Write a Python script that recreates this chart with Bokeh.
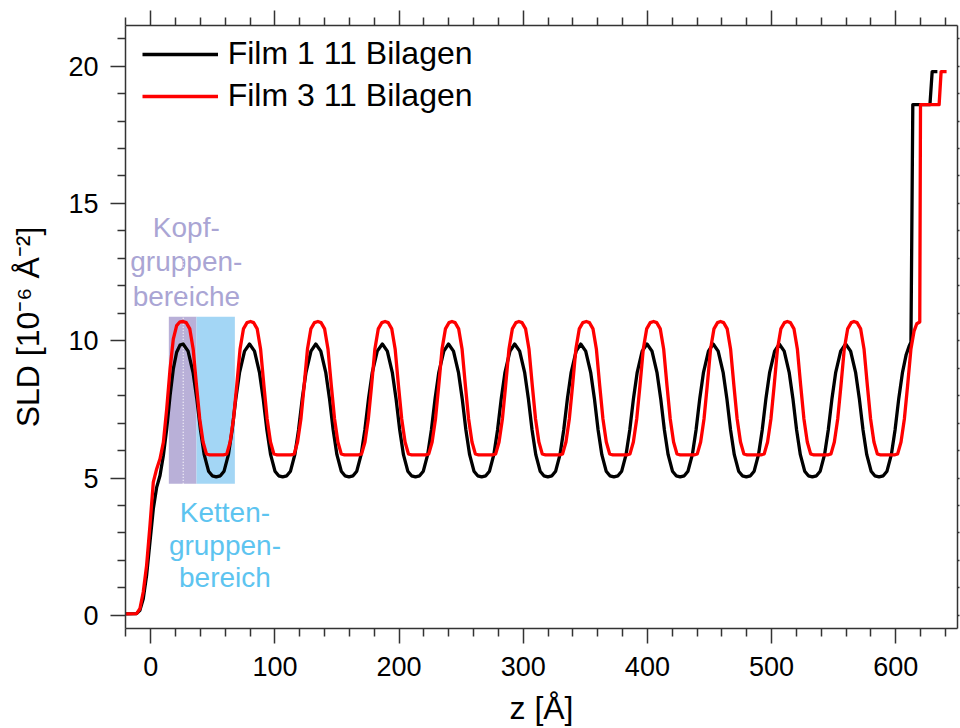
from bokeh.plotting import figure
from bokeh.models import (LinearAxis, Range1d, Legend, LegendItem, FixedTicker,
                          CustomJSTickFormatter)
from bokeh.embed import file_html
from bokeh.resources import INLINE
from bokeh.core.properties import value

# ---------------- data ----------------
film1_z = [
    -20.4, -11.5, -8.8, -6.1, -3.4, -0.7, 2.0, 4.7, 7.4, 10.1, 12.8, 15.5, 18.1, 20.8, 23.5,
    26.0, 30.0, 34.0, 37.0, 40.0, 43.0, 46.5, 49.5, 52.7, 56.0, 59.0, 62.5, 65.5, 68.5, 71.5, 75.5,
    79.5, 83.5, 87.5, 90.5, 93.5, 96.5, 100.0, 103.0, 106.2, 109.5, 112.5, 116.0, 119.0, 122.0, 125.0, 129.0,
    132.9, 136.9, 140.9, 143.9, 146.9, 149.9, 153.4, 156.4, 159.6, 162.9, 165.9, 169.4, 172.4, 175.4, 178.4, 182.4,
    186.5, 190.5, 194.5, 197.5, 200.5, 203.5, 207.0, 210.0, 213.2, 216.5, 219.5, 223.0, 226.0, 229.0, 232.0, 236.0,
    239.8, 243.8, 247.8, 250.8, 253.8, 256.8, 260.3, 263.3, 266.5, 269.8, 272.8, 276.3, 279.3, 282.3, 285.3, 289.3,
    293.1, 297.1, 301.1, 304.1, 307.1, 310.1, 313.6, 316.6, 319.8, 323.1, 326.1, 329.6, 332.6, 335.6, 338.6, 342.6,
    346.3, 350.3, 354.3, 357.3, 360.3, 363.3, 366.8, 369.8, 373.0, 376.3, 379.3, 382.8, 385.8, 388.8, 391.8, 395.8,
    399.7, 403.7, 407.7, 410.7, 413.7, 416.7, 420.2, 423.2, 426.4, 429.7, 432.7, 436.2, 439.2, 442.2, 445.2, 449.2,
    453.0, 457.0, 461.0, 464.0, 467.0, 470.0, 473.5, 476.5, 479.7, 483.0, 486.0, 489.5, 492.5, 495.5, 498.5, 502.5,
    506.2, 510.2, 514.2, 517.2, 520.2, 523.2, 526.7, 529.7, 532.9, 536.2, 539.2, 542.7, 545.7, 548.7, 551.7, 555.7,
    559.7, 563.7, 567.7, 570.7, 573.7, 576.7, 580.2, 583.2, 586.6, 590.0, 593.0, 596.5, 599.5, 602.5, 605.5, 608.5,
    611.0, 612.3, 613.8, 627.6, 629.4, 633.6,
]
film1_sld = [
    0.05, 0.06, 0.18, 0.6, 1.46, 2.67, 3.88, 4.66, 5.09, 5.82, 6.79, 8.0, 8.97, 9.58, 9.84,
    9.88, 9.62, 8.85, 7.9, 6.75, 5.85, 5.25, 5.08, 5.04, 5.08, 5.25, 5.85, 6.75, 7.9, 8.85, 9.62,
    9.88, 9.62, 8.85, 7.9, 6.75, 5.85, 5.25, 5.08, 5.04, 5.08, 5.25, 5.85, 6.75, 7.9, 8.85, 9.62,
    9.88, 9.62, 8.85, 7.9, 6.75, 5.85, 5.25, 5.08, 5.04, 5.08, 5.25, 5.85, 6.75, 7.9, 8.85, 9.62,
    9.88, 9.62, 8.85, 7.9, 6.75, 5.85, 5.25, 5.08, 5.04, 5.08, 5.25, 5.85, 6.75, 7.9, 8.85, 9.62,
    9.88, 9.62, 8.85, 7.9, 6.75, 5.85, 5.25, 5.08, 5.04, 5.08, 5.25, 5.85, 6.75, 7.9, 8.85, 9.62,
    9.88, 9.62, 8.85, 7.9, 6.75, 5.85, 5.25, 5.08, 5.04, 5.08, 5.25, 5.85, 6.75, 7.9, 8.85, 9.62,
    9.88, 9.62, 8.85, 7.9, 6.75, 5.85, 5.25, 5.08, 5.04, 5.08, 5.25, 5.85, 6.75, 7.9, 8.85, 9.62,
    9.88, 9.62, 8.85, 7.9, 6.75, 5.85, 5.25, 5.08, 5.04, 5.08, 5.25, 5.85, 6.75, 7.9, 8.85, 9.62,
    9.88, 9.62, 8.85, 7.9, 6.75, 5.85, 5.25, 5.08, 5.04, 5.08, 5.25, 5.85, 6.75, 7.9, 8.85, 9.62,
    9.88, 9.62, 8.85, 7.9, 6.75, 5.85, 5.25, 5.08, 5.04, 5.08, 5.25, 5.85, 6.75, 7.9, 8.85, 9.62,
    9.88, 9.62, 8.85, 7.9, 6.75, 5.85, 5.25, 5.08, 5.04, 5.08, 5.25, 5.85, 6.75, 7.9, 8.85, 9.5,
    9.82, 9.95, 18.6, 18.6, 19.8, 19.8,
]

film3_z = [
    -20.4, -11.5, -8.8, -6.1, -3.4, -0.7, 2.0, 4.7, 7.4, 10.1, 12.8, 15.5, 18.1, 20.8, 23.5,
    26.0, 28.5, 31.4, 34.1, 36.8, 39.4, 42.1, 44.8, 47.5, 58.5, 61.2, 63.9, 66.6, 69.2, 71.9, 74.6, 77.5,
    80.3, 82.8, 85.7, 88.4, 91.1, 93.7, 96.4, 99.1, 101.8, 112.8, 115.5, 118.2, 120.9, 123.5, 126.2, 128.9, 131.8,
    134.6, 137.1, 140.0, 142.7, 145.4, 148.0, 150.7, 153.4, 156.1, 167.1, 169.8, 172.5, 175.2, 177.8, 180.5, 183.2, 186.1,
    188.7, 191.2, 194.1, 196.8, 199.5, 202.1, 204.8, 207.5, 210.2, 221.2, 223.9, 226.6, 229.3, 231.9, 234.6, 237.3, 240.2,
    242.6, 245.1, 248.0, 250.7, 253.4, 256.0, 258.7, 261.4, 264.1, 275.1, 277.8, 280.5, 283.2, 285.8, 288.5, 291.2, 294.1,
    296.5, 299.0, 301.9, 304.6, 307.3, 309.9, 312.6, 315.3, 318.0, 329.0, 331.7, 334.4, 337.1, 339.7, 342.4, 345.1, 348.0,
    350.8, 353.3, 356.2, 358.9, 361.6, 364.2, 366.9, 369.6, 372.3, 383.3, 386.0, 388.7, 391.4, 394.0, 396.7, 399.4, 402.3,
    405.0, 407.5, 410.4, 413.1, 415.8, 418.4, 421.1, 423.8, 426.5, 437.5, 440.2, 442.9, 445.6, 448.2, 450.9, 453.6, 456.5,
    458.9, 461.4, 464.3, 467.0, 469.7, 472.3, 475.0, 477.7, 480.4, 491.4, 494.1, 496.8, 499.5, 502.1, 504.8, 507.5, 510.4,
    512.7, 515.2, 518.1, 520.8, 523.5, 526.1, 528.8, 531.5, 534.2, 545.2, 547.9, 550.6, 553.3, 555.9, 558.6, 561.3, 564.2,
    566.4, 568.9, 571.8, 574.5, 577.2, 579.8, 582.5, 585.2, 587.9, 598.9, 601.6, 604.3, 607.0, 609.6, 612.3, 614.8,
    617.0, 619.4, 620.0, 635.0, 636.6, 641.0,
]
film3_sld = [
    0.05, 0.06, 0.24, 0.85, 1.82, 3.27, 4.85, 5.33, 5.70, 6.3, 7.52, 8.97, 10.06, 10.55, 10.69,
    10.70, 10.66, 10.43, 9.70, 8.36, 7.15, 6.31, 5.88, 5.84, 5.84, 5.88, 6.31, 7.15, 8.36, 9.70, 10.43, 10.66,
    10.70, 10.66, 10.43, 9.70, 8.36, 7.15, 6.31, 5.88, 5.84, 5.84, 5.88, 6.31, 7.15, 8.36, 9.70, 10.43, 10.66,
    10.70, 10.66, 10.43, 9.70, 8.36, 7.15, 6.31, 5.88, 5.84, 5.84, 5.88, 6.31, 7.15, 8.36, 9.70, 10.43, 10.66,
    10.70, 10.66, 10.43, 9.70, 8.36, 7.15, 6.31, 5.88, 5.84, 5.84, 5.88, 6.31, 7.15, 8.36, 9.70, 10.43, 10.66,
    10.70, 10.66, 10.43, 9.70, 8.36, 7.15, 6.31, 5.88, 5.84, 5.84, 5.88, 6.31, 7.15, 8.36, 9.70, 10.43, 10.66,
    10.70, 10.66, 10.43, 9.70, 8.36, 7.15, 6.31, 5.88, 5.84, 5.84, 5.88, 6.31, 7.15, 8.36, 9.70, 10.43, 10.66,
    10.70, 10.66, 10.43, 9.70, 8.36, 7.15, 6.31, 5.88, 5.84, 5.84, 5.88, 6.31, 7.15, 8.36, 9.70, 10.43, 10.66,
    10.70, 10.66, 10.43, 9.70, 8.36, 7.15, 6.31, 5.88, 5.84, 5.84, 5.88, 6.31, 7.15, 8.36, 9.70, 10.43, 10.66,
    10.70, 10.66, 10.43, 9.70, 8.36, 7.15, 6.31, 5.88, 5.84, 5.84, 5.88, 6.31, 7.15, 8.36, 9.70, 10.43, 10.66,
    10.70, 10.66, 10.43, 9.70, 8.36, 7.15, 6.31, 5.88, 5.84, 5.84, 5.88, 6.31, 7.15, 8.36, 9.70, 10.43, 10.66,
    10.70, 10.66, 10.43, 9.70, 8.36, 7.15, 6.31, 5.88, 5.84, 5.84, 5.88, 6.31, 7.15, 8.36, 9.70, 10.35,
    10.62, 10.68, 18.6, 18.6, 19.8, 19.8,
]

series_labels = ["Film 1 11 Bilagen", "Film 3 11 Bilagen"]

x_ticks = [0, 100, 200, 300, 400, 500, 600]
x_minor_ticks = [-20, 20, 40, 60, 80, 120, 140, 160, 180, 220, 240, 260, 280, 320, 340, 360, 380,
                 420, 440, 460, 480, 520, 540, 560, 580, 620, 640]
y_ticks = [0, 5, 10, 15, 20]
y_minor_ticks = [1, 2, 3, 4, 6, 7, 8, 9, 11, 12, 13, 14, 16, 17, 18, 19, 21]

# highlighted regions (head-group and chain-group of the first bilayer)
head_left, head_right = 14.5, 36.8
chain_left, chain_right = 36.8, 67.7
region_bottom, region_top = 4.79, 10.87
head_center = 26.1
marker_top = 13.4

head_text = ["Kopf-", "gruppen-", "bereiche"]
head_text_x = [28.6, 28.6, 28.6]
head_text_y = [14.12, 12.87, 11.62]
chain_text = ["Ketten-", "gruppen-", "bereich"]
chain_text_x = [59.7, 59.7, 59.7]
chain_text_y = [3.73, 2.54, 1.36]

# ---------------- styling ----------------
FONT = "Liberation Sans"
AX_COLOR = "#333333"
HEAD_BOX = "#b9b0d8"
CHAIN_BOX = "#a3d6f5"
HEAD_TXT = "#aaa5d4"
CHAIN_TXT = "#5dc4f0"

p = figure(width=960, height=728, output_backend="svg", toolbar_location=None,
           x_range=Range1d(-20.4, 649.8), y_range=Range1d(-0.48, 21.48),
           min_border_left=125, min_border_top=25, min_border_right=3, min_border_bottom=98)
p.outline_line_color = None
p.xgrid.visible = False
p.ygrid.visible = False
p.background_fill_color = "white"
p.border_fill_color = "white"

xa = p.below[0]
ya = p.left[0]
top_ax = LinearAxis()
right_ax = LinearAxis()
p.add_layout(top_ax, "above")
p.add_layout(right_ax, "right")

def style_axis(ax, ticks, minor, labels=True, tick_out=15, minor_out=8):
    ax.ticker = FixedTicker(ticks=ticks, minor_ticks=minor)
    ax.axis_line_color = AX_COLOR
    ax.axis_line_width = 1.5
    ax.major_tick_line_color = AX_COLOR
    ax.major_tick_line_width = 1.5
    ax.minor_tick_line_color = AX_COLOR
    ax.minor_tick_line_width = 1.5
    ax.major_tick_in = 0
    ax.minor_tick_in = 0
    ax.major_tick_out = tick_out
    ax.minor_tick_out = minor_out
    ax.major_label_text_font = FONT
    ax.major_label_text_font_size = "27px"
    ax.major_label_text_color = "black"
    ax.axis_label_text_font = FONT
    ax.axis_label_text_font_size = "32px"
    ax.axis_label_text_font_style = "normal"
    ax.axis_label_text_color = "black"
    if not labels:
        ax.formatter = CustomJSTickFormatter(code="return ''")
        ax.major_label_standoff = 0
        ax.major_label_text_font_size = "1px"

style_axis(xa, x_ticks, x_minor_ticks)
style_axis(ya, y_ticks, y_minor_ticks)
style_axis(top_ax, x_ticks, x_minor_ticks, labels=False)
style_axis(right_ax, y_ticks, y_minor_ticks, labels=False, tick_out=2, minor_out=2)
xa.axis_label = "z [Å]"
xa.major_label_standoff = 13
xa.axis_label_standoff = 11
ya.axis_label = "SLD [10⁻⁶ Å⁻²]"
ya.major_label_standoff = 12
ya.axis_label_standoff = 19

# shaded regions
p.quad(left=[head_left], right=[head_right], bottom=[region_bottom], top=[region_top],
       fill_color=HEAD_BOX, line_color=None)
p.quad(left=[chain_left], right=[chain_right], bottom=[region_bottom], top=[region_top],
       fill_color=CHAIN_BOX, line_color=None)

p.text(x=head_text_x, y=head_text_y, text=head_text, text_font=value(FONT),
       text_font_size=value("28px"), text_align="center", text_baseline="alphabetic",
       text_color=HEAD_TXT)
p.text(x=chain_text_x, y=chain_text_y, text=chain_text, text_font=value(FONT),
       text_font_size=value("28px"), text_align="center", text_baseline="alphabetic",
       text_color=CHAIN_TXT)

p.line([head_center, head_center], [region_bottom, marker_top], line_color="white",
       line_width=1.2, line_dash="1 2")

r1 = p.line(film1_z, film1_sld, line_color="black", line_width=3.3, line_join="round")
r3 = p.line(film3_z, film3_sld, line_color="#ff0000", line_width=3.3, line_join="round")

legend = Legend(items=[LegendItem(label=series_labels[0], renderers=[r1]),
                       LegendItem(label=series_labels[1], renderers=[r3])],
                location=(16.7, 514), padding=0, margin=0, spacing=5,
                glyph_width=76, glyph_height=36, label_height=36, label_standoff=10,
                label_text_font=FONT, label_text_font_size="32px", label_text_color="black",
                border_line_alpha=0, background_fill_alpha=0)
p.add_layout(legend)

open("out.html", "w").write(file_html(p, INLINE))
